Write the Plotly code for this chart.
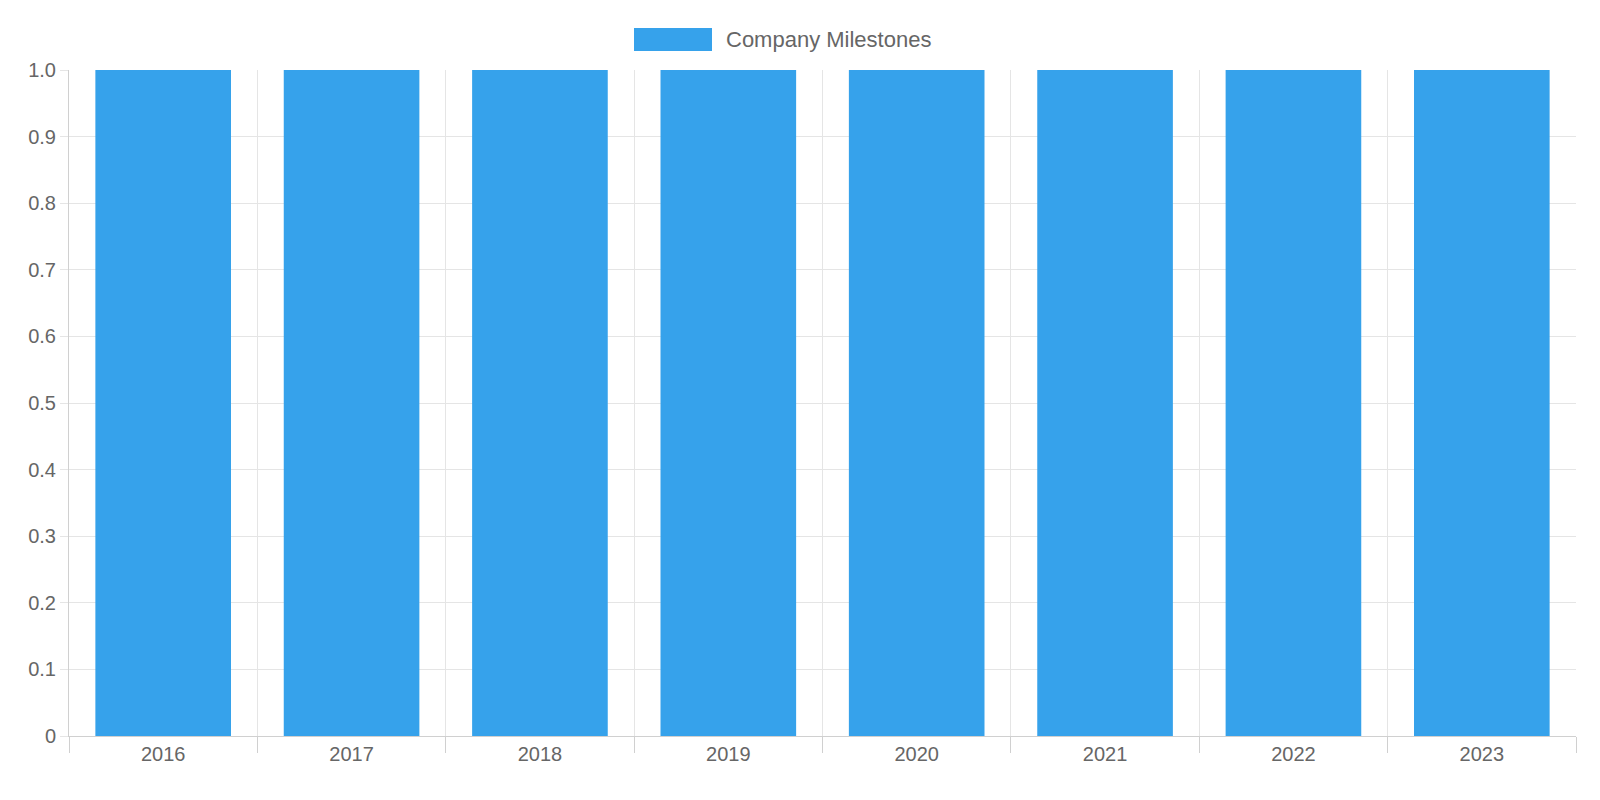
import plotly.graph_objects as go

years = ["2016", "2017", "2018", "2019", "2020", "2021", "2022", "2023"]
values = [1, 1, 1, 1, 1, 1, 1, 1]
series_name = "Company Milestones"
ytick_vals = [0, 0.1, 0.2, 0.3, 0.4, 0.5, 0.6, 0.7, 0.8, 0.9, 1.0]
ytick_text = ["0", "0.1", "0.2", "0.3", "0.4", "0.5", "0.6", "0.7", "0.8", "0.9", "1.0"]

fig = go.Figure(go.Bar(x=years, y=values, name=series_name,
                       marker=dict(color="rgb(54,162,235)", line=dict(width=0)),
                       showlegend=False))

W, H = 1600, 800
ml, mr, mt, mb = 61, 32, 62, 72
fig.update_layout(
    width=W, height=H, margin=dict(l=ml, r=mr, t=mt, b=mb),
    paper_bgcolor="white", plot_bgcolor="white", bargap=0.28,
    font=dict(family="Liberation Sans, Arial, sans-serif", size=20, color="#666"),
    xaxis=dict(showgrid=True, gridcolor="#e5e5e5", tickson="boundaries",
               ticks="outside", ticklen=16, tickcolor="#d0d0d0",
               showline=True, linecolor="#d0d0d0", zeroline=False),
    yaxis=dict(range=[0, 1], tickvals=ytick_vals, ticktext=ytick_text,
               showgrid=True, gridcolor="#e5e5e5", ticks="outside", ticklen=8,
               tickcolor="#e5e5e5", showline=True, linecolor="#d0d0d0", zeroline=False),
)
# legend drawn manually (wide swatch like reference)
fig.add_shape(type="rect", xref="paper", yref="paper",
              x0=(626 - ml) / (W - ml - mr), x1=(704 - ml) / (W - ml - mr),
              y0=(H - mb - 43) / (H - mt - mb), y1=(H - mb - 20) / (H - mt - mb),
              fillcolor="rgb(54,162,235)", line=dict(width=0))
fig.add_annotation(xref="paper", yref="paper", x=(716 - ml) / (W - ml - mr),
                   y=(H - mb - 31) / (H - mt - mb), text=series_name, showarrow=False,
                   xanchor="left", yanchor="middle", font=dict(size=22, color="#666"))
fig.write_html("out.html")
